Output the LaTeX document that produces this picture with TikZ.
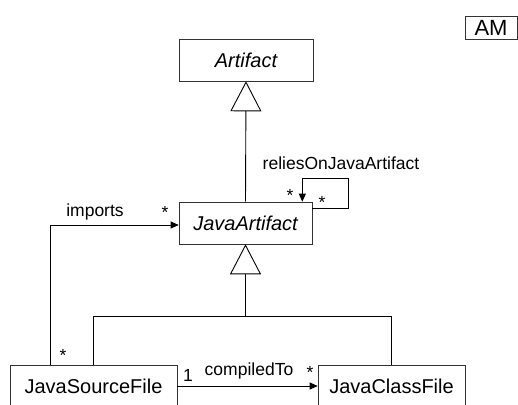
\documentclass[tikz,border=0pt]{standalone}
\usepackage{fontspec}
\setmainfont{Liberation Sans}
\usetikzlibrary{arrows.meta}

\tikzset{
  class/.style={draw=black!80, line width=0.6pt, minimum height=42pt, inner sep=0pt, font=\fontsize{20}{24}\selectfont},
  lbl/.style={inner sep=0pt, font=\fontsize{17.5}{20}\selectfont},
  assoc/.style={line width=0.9pt, -{Triangle[length=8pt,width=7pt]}},
  gen/.style={line width=0.9pt, -{Triangle[open,length=30pt,width=31pt,fill=white]}}
}

\begin{document}
\begin{tikzpicture}[x=1pt, y=-1pt]
      \useasboundingbox (0,0) rectangle (518,404);
      \clip (0,0) rectangle (518,404);

      \node [class, minimum width=52pt, minimum height=23pt, font=\fontsize{22}{24}\selectfont] (am) at (491,28) {AM};

      \node [class, minimum width=134pt] (artifact) at (246,60) {\itshape Artifact};
      \node [class, minimum width=133pt] (javaartifact) at (245.5,223) {\itshape JavaArtifact};
      \node [class, minimum width=167pt] (sourcefile) at (93.5,386) {JavaSourceFile};
      \node [class, minimum width=147pt] (classfile) at (391.5,386) {JavaClassFile};

      \coordinate (bar) at (245.5,316);
      \coordinate (importcorner) at (50,225);
      \coordinate (loopright) at (348,178);

      % generalizations
      \draw [gen] (javaartifact.north) -- (artifact.south);
      \draw [line width=0.9pt] (classfile.north) |- (bar);
      \draw [gen] (sourcefile.north) |- (bar) -- (javaartifact.south);

      % associations
      \draw [assoc] ([xshift=-43.5pt]sourcefile.north) -- (importcorner) -- (importcorner -| javaartifact.west);
      \draw [assoc] (sourcefile) -- (classfile);
      \draw [assoc] ([yshift=-7pt]javaartifact.north east) -| (loopright) -| ([xshift=-10pt]javaartifact.north east);

      \node [lbl] (imports) at (95,212) {imports};
      \node [lbl] (importsto) at (165,212) {*};
      \node [lbl] (importsfrom) at (63,355) {*};
      \node [lbl] (compiledto) at (249,371) {compiledTo};
      \node [lbl] (compiledfrom) at (188,375) {1};
      \node [lbl] (compiledmult) at (310,372) {*};
      \node [lbl] (relies) at (341,163) {reliesOnJavaArtifact};
      \node [lbl] (reliesto) at (290,195) {*};
      \node [lbl] (reliesfrom) at (322,202) {*};
    \end{tikzpicture}
\end{document}
